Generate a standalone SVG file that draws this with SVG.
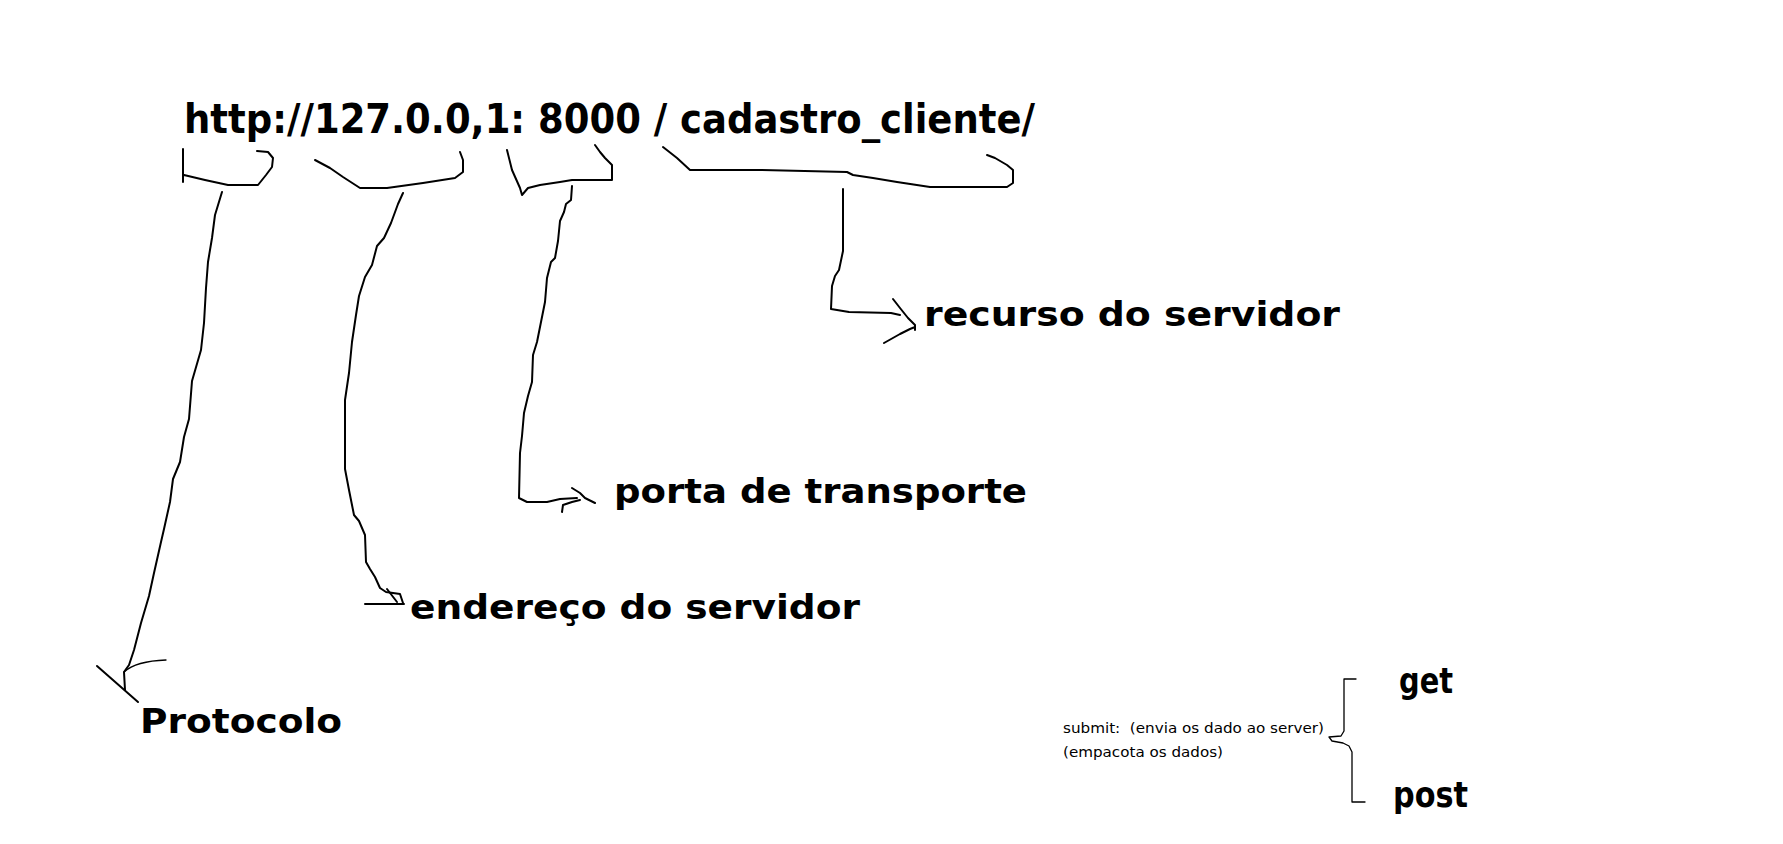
<svg xmlns="http://www.w3.org/2000/svg" width="1783" height="844" viewBox="0 0 1783 844">
<style>
.ln{fill:none;stroke:#000;stroke-width:2;stroke-linejoin:round;stroke-linecap:round}
.thin{fill:none;stroke:#000;stroke-width:1.3;stroke-linejoin:round;stroke-linecap:round}
.title{font-family:"DejaVu Sans Condensed","DejaVu Sans",sans-serif;font-weight:bold;font-size:41px;fill:#000}
.lbl{font-family:"DejaVu Sans","Liberation Sans",sans-serif;font-weight:bold;font-size:33px;fill:#000}
.lblc{font-family:"DejaVu Sans Condensed","DejaVu Sans",sans-serif;font-weight:bold;font-size:35px;fill:#000}
.small{font-family:"DejaVu Sans Condensed","DejaVu Sans",sans-serif;font-size:14.5px;fill:#000;white-space:pre}
</style>
<rect width="1783" height="844" fill="#fff"/>
<g id="url"><text class="title" x="184" y="133" textLength="851" lengthAdjust="spacingAndGlyphs">http://127.0.0,1: 8000 / cadastro_cliente/</text></g>
<g id="protocolo"><text class="lbl" x="140" y="733" textLength="202" lengthAdjust="spacingAndGlyphs">Protocolo</text></g>
<g id="endereco"><text class="lbl" x="410" y="619" textLength="450" lengthAdjust="spacingAndGlyphs">endereço do servidor</text></g>
<g id="porta"><text class="lbl" x="614" y="503" textLength="413" lengthAdjust="spacingAndGlyphs">porta de transporte</text></g>
<g id="recurso"><text class="lbl" x="924" y="326" textLength="416" lengthAdjust="spacingAndGlyphs">recurso do servidor</text></g>
<g id="submit">
<text class="small" x="1063" y="733" textLength="261" lengthAdjust="spacingAndGlyphs" xml:space="preserve">submit:  (envia os dado ao server)</text>
<text class="small" x="1063" y="757" textLength="160" lengthAdjust="spacingAndGlyphs">(empacota os dados)</text>
</g>
<g id="get"><text class="lblc" x="1399" y="693" textLength="54" lengthAdjust="spacingAndGlyphs">get</text></g>
<g id="post"><text class="lblc" x="1393" y="807" textLength="75" lengthAdjust="spacingAndGlyphs">post</text></g>
<g id="connectors">
<path class="ln" d="M183,149 L183,182 M184,175 L205,180 L228,185 L258,185 L266,175 L272,167 L273,158 L268,152 L257,151"/>
<path class="ln" d="M222,192 L215,215 L212,238 L208,262 L206,288 L204,323 L201,350 L192,381 L189,419 L184,437 L180,462 L173,479 L170,502 L164,529 L161,542 L154,573 L149,596 L141,623 L134,650 L129,665 L124,672 L125,690"/>
<path class="ln" d="M97,666 L138,702"/>
<path class="thin" d="M124,672 Q136,661 166,660"/>
<path class="ln" d="M315,160 L330,168 L343,177 L360,188 L387,188 L423,183 L455,178 L463,172 L463,160 L460,152"/>
<path class="ln" d="M403,193 L398,204 L391,223 L384,238 L377,246 L372,265 L365,277 L359,296 L356,315 L352,342 L349,373 L345,400 L345,469 L349,490 L354,515 L359,521 L365,535 L366,562 L370,569 L375,577 L380,588 L386,592 L400,594 L403,603"/>
<path class="ln" d="M365,604 L404,604 M387,589 L397,602"/>
<path class="ln" d="M507,150 L512,170 L520,188 L522,195 L528,188 L540,185 L560,182 L572,180 L612,180 L612,165 L605,158 L600,152 L595,145"/>
<path class="ln" d="M572,186 L571,200 L566,204 L564,212 L560,221 L558,241 L555,258 L551,262 L547,278 L545,302 L541,322 L537,342 L533,355 L532,382 L528,396 L524,413 L522,436 L520,453 L519,498 L527,502 L547,502 L560,499 L577,498"/>
<path class="ln" d="M572,488 L580,493 L585,498 L595,503 M562,512 L563,505 L572,502 L580,500"/>
<path class="ln" d="M663,147 L677,158 L690,170 L760,170 L847,172 L853,175 L873,178 L897,182 L930,187 L1007,187 L1013,183 L1013,170 L1007,165 L995,158 L987,155"/>
<path class="ln" d="M843,189 L843,251 L839,270 L835,276 L832,286 L831,309 L849,312 L891,313 L900,315"/>
<path class="ln" d="M893,299 L900,308 L908,318 L915,325 L915,330 M884,343 L900,334 L910,329 L915,327"/>
<path class="thin" d="M1356,679 L1344,679 L1344,731 L1341,736 L1329,737 L1332,741 L1343,743 L1349,746 L1352,752 L1352,802 L1365,802"/>
</g>
</svg>
